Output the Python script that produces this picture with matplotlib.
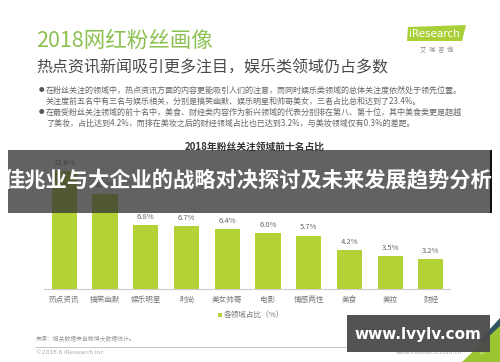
import matplotlib
matplotlib.use("Agg")
import matplotlib.pyplot as plt
from matplotlib.patches import Rectangle, Polygon

plt.rcParams['font.family'] = ['Noto Sans CJK SC', 'DejaVu Sans']

categories = ['热点资讯', '搞笑幽默', '娱乐明星', '时尚', '美女帅哥', '电影', '情感两性', '美食', '美妆', '财经']
values = [12.6, 10.2, 6.8, 6.7, 6.4, 6.0, 5.7, 4.2, 3.5, 3.2]

title = '2018网红粉丝画像'
subtitle = '热点资讯新闻吸引更多注目，娱乐类领域仍占多数'
bullets = [
    ('●', '在粉丝关注的领域中，热点资讯方面的内容更能吸引人们的注意，而同时娱乐类领域的总体关注度依然处于领先位置。'),
    ('', '关注度前五名中有三名与娱乐相关，分别是搞笑幽默、娱乐明星和帅哥美女，三者占比总和达到了23.4%。'),
    ('●', '在最受粉丝关注领域的前十名中，美食、财经类内容作为新兴领域的代表分别排在第八、第十位，其中美食类更是超越'),
    ('', '了美妆，占比达到4.2%，而排在美妆之后的财经领域占比也已达到3.2%，与美妆领域仅有0.3%的差距。'),
]
chart_title = '2018年粉丝关注领域前十名占比'
legend_label = '各领域占比（%）'
source = '来源：相关数据来自微博大数据统计。'
banner = '佳兆业与大企业的战略对决探讨及未来发展趋势分析'
watermark = 'www.lvylv.com'

W, H = 500, 362
fig = plt.figure(figsize=(5, 3.62), dpi=100)
fig.patch.set_facecolor('white')

def P(x, y):
    return (x / W, 1 - y / H)

GREEN = '#b3d235'

# header
fig.text(*P(36, 41), title, color='#8cc152', fontsize=15.5, va='center', ha='left')
fig.text(*P(36, 68), subtitle, color='#4a4a4a', fontsize=11.5, va='center', ha='left')

# iResearch logo
fig.add_artist(Polygon([P(408, 27), P(466, 25), P(462, 41), P(407, 41)], closed=True,
                       transform=fig.transFigure, facecolor='#a9cf38', edgecolor='none'))
fig.text(*P(409, 34), 'iResearch', color='white', fontsize=7.5, va='center', ha='left',
         family='DejaVu Sans')
fig.text(*P(437, 50), '艾  瑞  咨  询', color='#888888', fontsize=4.5, va='center', ha='center')

# bullets
ys = [90, 101, 112, 123]
for (b, t), y in zip(bullets, ys):
    if b:
        fig.text(*P(38.5, y), b, color='#555555', fontsize=4, va='center', ha='left')
    fig.text(*P(46, y), t, color='#666666', fontsize=5.8, va='center', ha='left')

fig.text(*P(255, 147), chart_title, color='#333333', fontsize=7, fontweight='bold',
         va='center', ha='center')

# bar chart
ax_left, ax_right, ax_bottom, ax_top = 44, 450, 289, 158
ax = fig.add_axes([ax_left / W, 1 - ax_bottom / H, (ax_right - ax_left) / W,
                   (ax_bottom - ax_top) / H])
x = list(range(len(categories)))
bars = ax.bar(x, values, width=0.62, color=GREEN, zorder=2)
ax.bar_label(bars, labels=[f'{v:.1f}%' for v in values], padding=3, fontsize=5.5,
             color='#666666')
ax.set_xlim(-0.5, 9.47)
ax.set_ylim(0, 14)
ax.set_xticks(x)
ax.set_xticklabels(categories, fontsize=5.5, color='#777777')
ax.tick_params(axis='x', length=0, pad=5)
ax.set_yticks([])
for s in ['top', 'right', 'left']:
    ax.spines[s].set_visible(False)
ax.spines['bottom'].set_color('#cccccc')
ax.spines['bottom'].set_linewidth(0.8)
ax.patch.set_alpha(0)

# legend
fig.add_artist(Rectangle(P(218, 317), 4 / W, 4 / H, transform=fig.transFigure,
                         facecolor=GREEN, edgecolor='none'))
fig.text(*P(224, 315), legend_label, color='#777777', fontsize=5.5, va='center', ha='left')

# footer
fig.text(*P(36, 339), source, color='#999999', fontsize=4.2, va='center', ha='left')
fig.add_artist(plt.Line2D([36 / W, 462 / W], [1 - 347 / H, 1 - 347 / H],
                          transform=fig.transFigure, color='#bbbbbb', lw=0.6))
fig.text(*P(36, 353), '©2018.6 iResearch Inc', color='#aaaaaa', fontsize=4.2,
         va='center', ha='left', family='DejaVu Sans')
fig.text(*P(462, 353), 'www.iresearch.com.cn', color='#aaaaaa', fontsize=4.2,
         va='center', ha='right', family='DejaVu Sans')
fig.add_artist(Polygon([P(478, 342), P(500, 318), P(500, 342)], closed=True,
                       transform=fig.transFigure, facecolor='#2f5563', edgecolor='none'))
fig.add_artist(Polygon([P(462, 362), P(500, 326), P(500, 362)], closed=True,
                       transform=fig.transFigure, facecolor='#9cc532', edgecolor='none'))
fig.text(*P(482, 352), '17', color='#e8f0c8', fontsize=4.5, va='center', ha='center',
         family='DejaVu Sans')

# overlay banner
fig.add_artist(Rectangle(P(8, 213), 484 / W, 63 / H, transform=fig.transFigure,
                         facecolor='#333333', alpha=0.77, edgecolor='none', zorder=10))
fig.add_artist(Rectangle(P(490, 213), 2 / W, 63 / H, transform=fig.transFigure,
                         facecolor='#111111', edgecolor='none', zorder=10))
fig.text(*P(248, 181), banner, color='white', fontsize=15.3, fontweight='bold',
         va='center', ha='center', zorder=11)

# watermark box
fig.add_artist(Rectangle(P(347, 352), 143 / W, 37 / H, transform=fig.transFigure,
                         facecolor='#4a4a4a', alpha=0.95, edgecolor='none', zorder=10))
fig.text(*P(418, 335), watermark, color='white', fontsize=11, fontweight='bold',
         va='center', ha='center', family='DejaVu Sans', zorder=11)

fig.savefig('out.png', dpi=100, facecolor='white')
